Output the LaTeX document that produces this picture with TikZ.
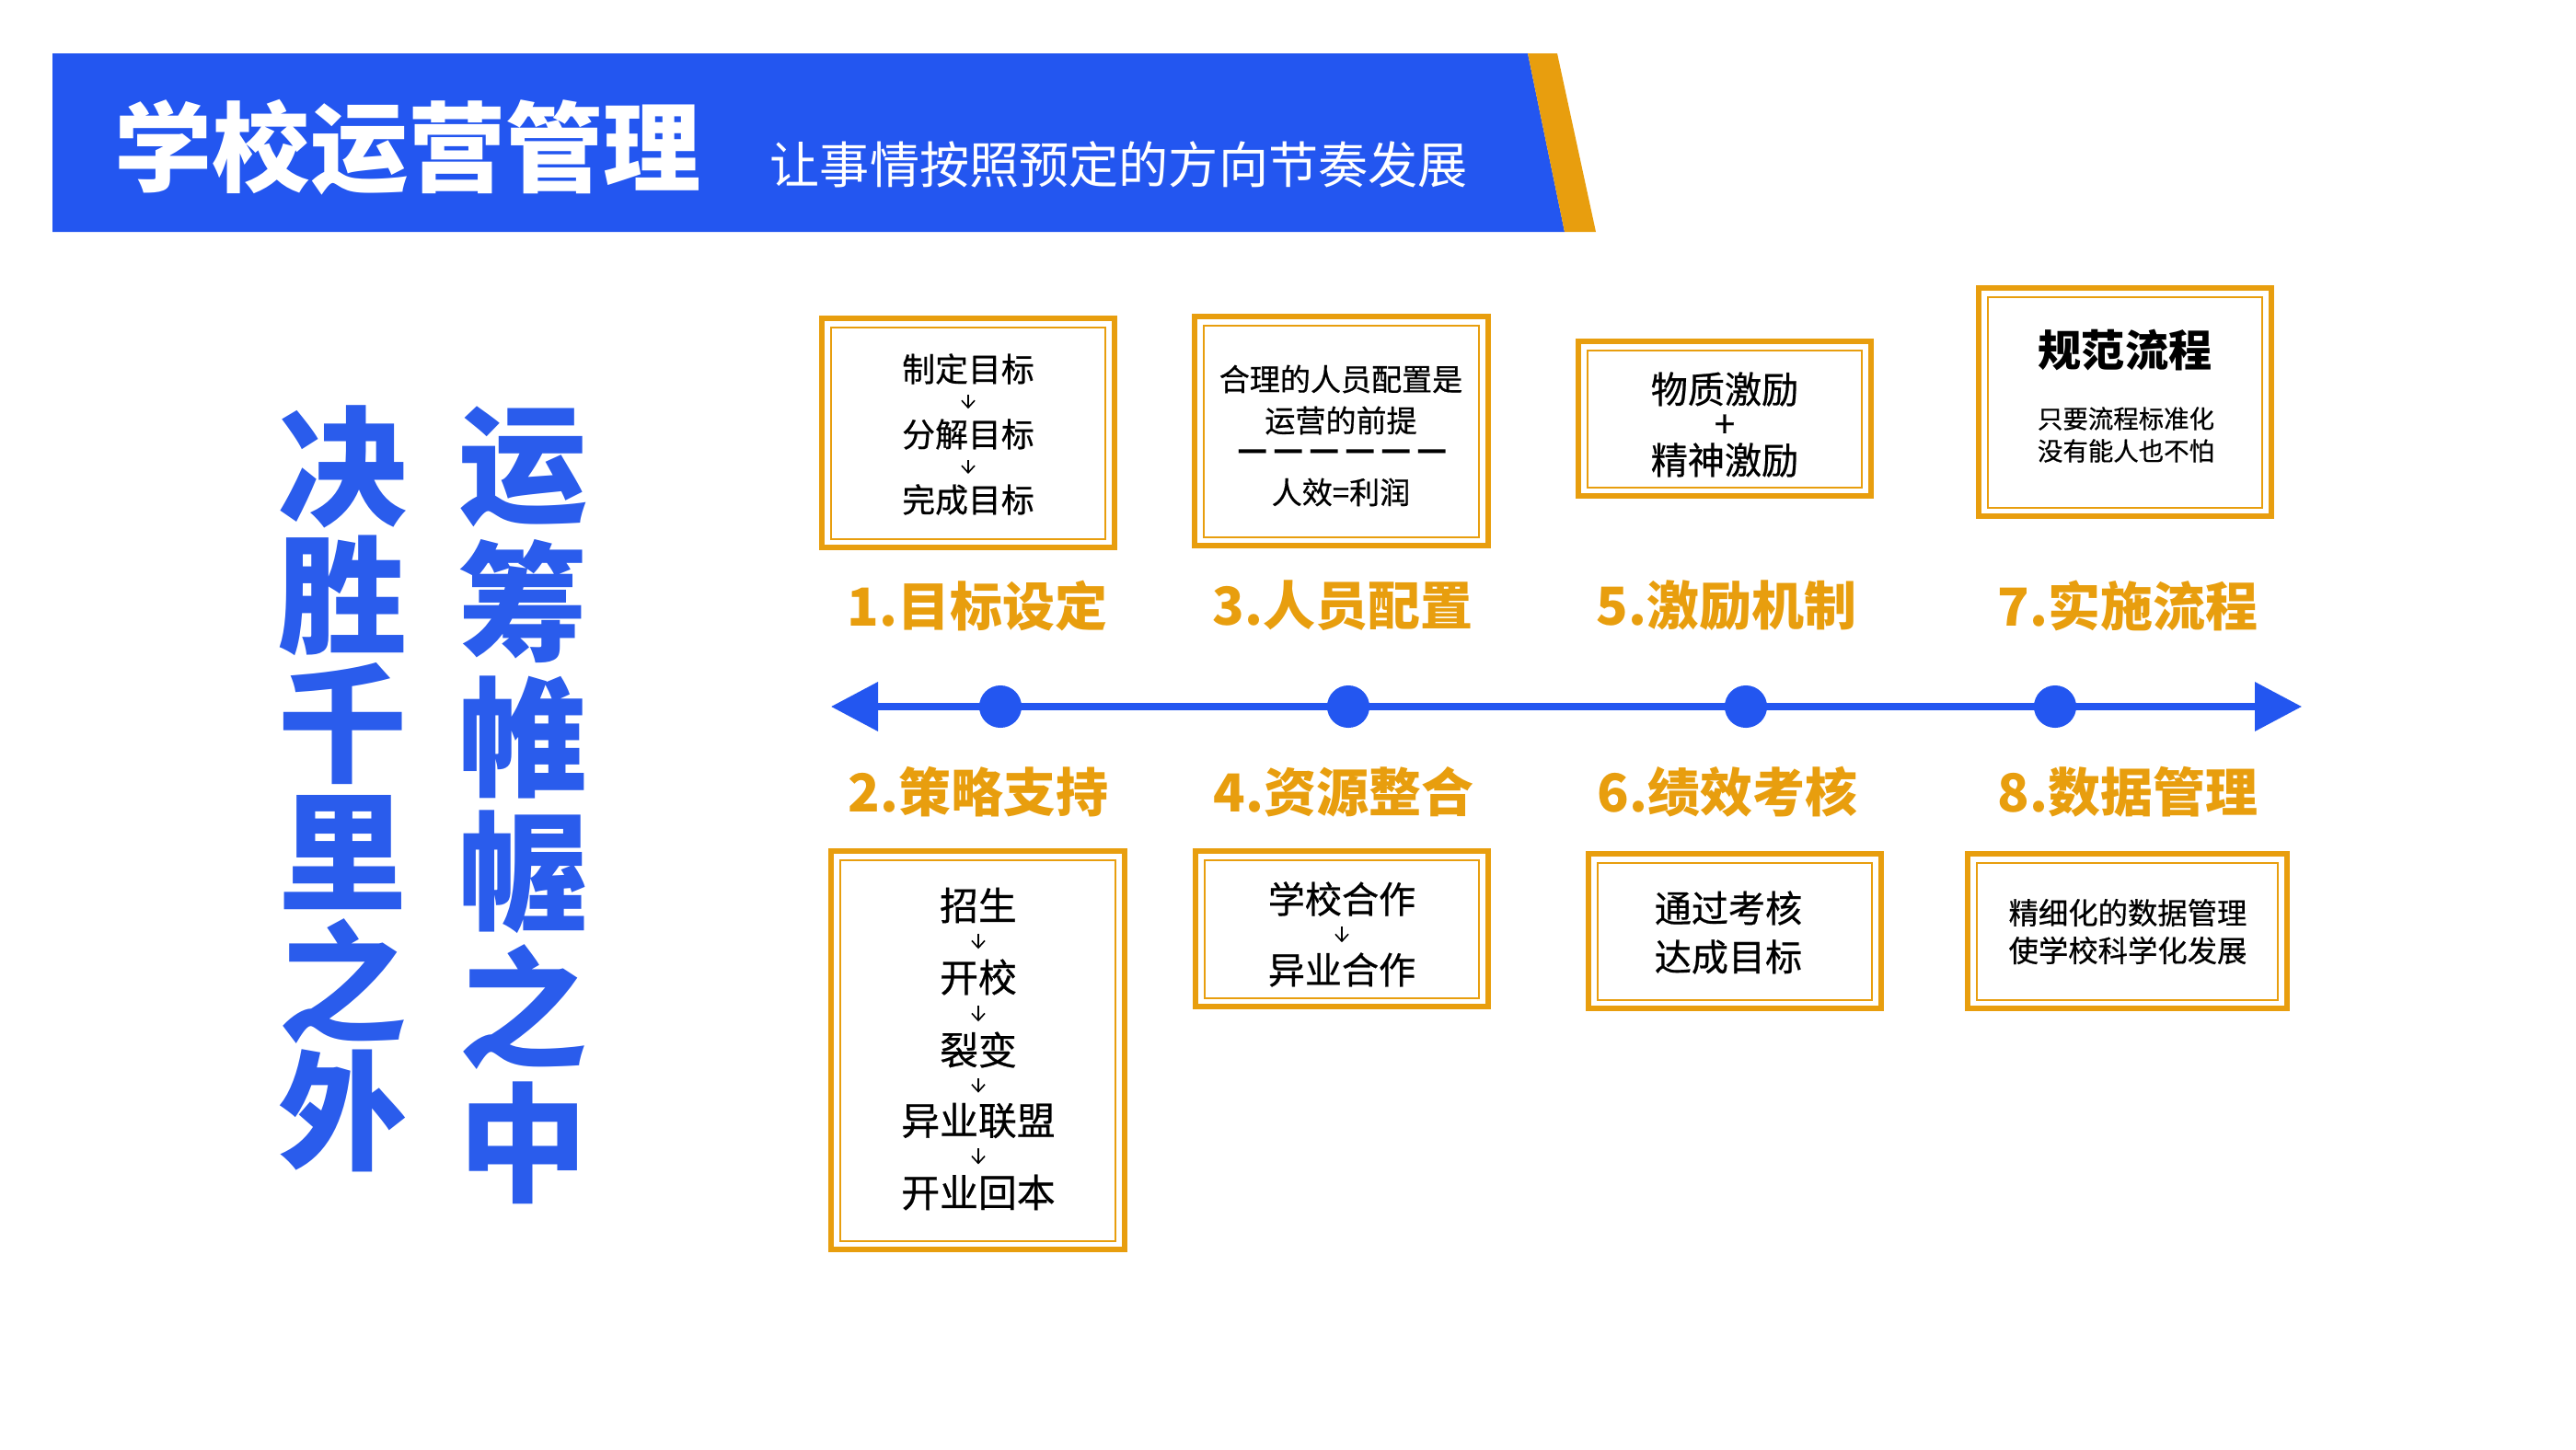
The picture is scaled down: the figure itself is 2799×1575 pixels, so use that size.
\documentclass[tikz,border=0pt]{standalone}
\usepackage{fontspec}
\setmainfont{Noto Sans CJK SC}
\newfontfamily\cjkm{Noto Sans CJK SC}[FakeBold=0.6]
\usetikzlibrary{arrows.meta}
\definecolor{hblue}{RGB}{35,86,240}
\definecolor{cblue}{RGB}{42,92,236}
\definecolor{orng}{RGB}{232,158,14}
\newcommand\fsz[1]{\fontsize{#1}{#1}\selectfont}
\begin{document}
\begin{tikzpicture}[x=0.01cm,y=-0.01cm,
  boxo/.style={draw=orng, line width=1.7pt, fill=white, inner sep=0pt},
  boxi/.style={draw=orng, line width=0.6pt},
  btxt/.style={inner sep=0pt, text=black},
  lbl/.style={inner sep=0pt, text=orng, font=\fsz{16.2pt}\bfseries},
  call/.style={inner sep=0pt, text=cblue, font=\fsz{39.8pt}\bfseries},
  dot/.style={circle, fill=hblue, inner sep=0pt, minimum size=13.1pt},
  darr/.style={line width=0.45pt, -{Straight Barb[length=2.2pt,width=4pt]}, shorten <=3pt, shorten >=3pt},
]
\path[use as bounding box, fill=white] (0,0) rectangle (2799,1575);

% header
\fill[hblue] (57,58) -- (1660,58) -- (1700,252) -- (57,252) -- cycle;
\fill[orng] (1660,58) -- (1692,58) -- (1734,252) -- (1700,252) -- cycle;
\node[inner sep=0pt, anchor=west, text=white, font=\fsz{30.2pt}\bfseries] (title) at (124,160) {学校运营管理};
\node[inner sep=0pt, anchor=west, text=white, font=\fsz{15.4pt}] (sub) at (836,179) {让事情按照预定的方向节奏发展};

% calligraphy columns
\foreach \c [count=\i] in {运,筹,帷,幄,之,中}
  \node[call] (R\i) at (568,{507+147*(\i-1)}) {\c};
\foreach \c [count=\i] in {决,胜,千,里,之,外}
  \node[call] (L\i) at (372,{507+140*(\i-1)}) {\c};

% timeline
\coordinate (TL) at (903,768);
\coordinate (TR) at (2501,768);
\draw[hblue, line width=2pt, {Triangle[length=14.5pt,width=14.8pt]}-{Triangle[length=14.5pt,width=14.8pt]}] (TL) -- (TR);
\node[dot] (D1) at (1087,768) {};
\node[dot] (D2) at (1465,768) {};
\node[dot] (D3) at (1897,768) {};
\node[dot] (D4) at (2233,768) {};

% labels
\node[lbl] (l1) at (1062,658) {1.目标设定};
\node[lbl] (l3) at (1459,658) {3.人员配置};
\node[lbl] (l5) at (1876,658) {5.激励机制};
\node[lbl] (l7) at (2312,658) {7.实施流程};
\node[lbl] (l2) at (1063,861) {2.策略支持};
\node[lbl] (l4) at (1460,861) {4.资源整合};
\node[lbl] (l6) at (1877,861) {6.绩效考核};
\node[lbl] (l8) at (2312,861) {8.数据管理};

% boxes
\node[boxo, minimum width=3.18cm, minimum height=2.49cm] (B1) at (1052,470.5) {};
\node[boxo, minimum width=3.19cm, minimum height=2.49cm] (B3) at (1457.5,468.5) {};
\node[boxo, minimum width=3.18cm, minimum height=1.68cm] (B5) at (1874,455) {};
\node[boxo, minimum width=3.18cm, minimum height=2.48cm] (B7) at (2309,437) {};
\node[boxo, minimum width=3.19cm, minimum height=4.33cm] (B2) at (1062.5,1141.5) {};
\node[boxo, minimum width=3.18cm, minimum height=1.69cm] (B4) at (1458,1009.5) {};
\node[boxo, minimum width=3.18cm, minimum height=1.68cm] (B6) at (1885,1012) {};
\node[boxo, minimum width=3.47cm, minimum height=1.68cm] (B8) at (2311.5,1012) {};
\foreach \b in {B1,B2,B3,B4,B5,B6,B7,B8}
  \draw[boxi] ([shift={(13,13)}]\b.north west) rectangle ([shift={(-13,-12)}]\b.south east);

% box 1
\begin{scope}[every node/.style={btxt, font=\cjkm\fsz{10.2pt}}]
\node (a1) at (1052,401) {制定目标};
\node (a2) at (1052,472) {分解目标};
\node (a3) at (1052,543) {完成目标};
\end{scope}
\draw[darr] (a1) -- (a2);
\draw[darr] (a2) -- (a3);

% box 3
\begin{scope}[every node/.style={btxt, font=\cjkm\fsz{9.4pt}}]
\node (c1) at (1457,412) {合理的人员配置是};
\node (c2) at (1457,457) {运营的前提};
\node[font=\fsz{10.4pt}\bfseries] (c3) at (1459,495) {—\kern1.6pt—\kern1.6pt—\kern1.6pt—\kern1.6pt—\kern1.6pt—};
\node (c4) at (1457,535) {人效=利润};
\end{scope}

% box 5
\begin{scope}[every node/.style={btxt, font=\cjkm\fsz{11.4pt}}]
\node (e1) at (1874,423) {物质激励};
\node (e2) at (1874,463) {+};
\node (e3) at (1874,500) {精神激励};
\end{scope}

% box 7
\node[btxt, font=\fsz{13.4pt}\bfseries] (g1) at (2309,381) {规范流程};
\node[btxt, font=\cjkm\fsz{7.8pt}] (g2) at (2310,455) {只要流程标准化};
\node[btxt, font=\cjkm\fsz{7.8pt}] (g3) at (2310,490) {没有能人也不怕};

% box 2
\begin{scope}[every node/.style={btxt, font=\cjkm\fsz{11.9pt}}]
\node (b1) at (1063,984) {招生};
\node (b2) at (1063,1062) {开校};
\node (b3) at (1063,1141) {裂变};
\node (b4) at (1063,1218) {异业联盟};
\node (b5) at (1063,1296) {开业回本};
\end{scope}
\draw[darr] (b1) -- (b2);
\draw[darr] (b2) -- (b3);
\draw[darr] (b3) -- (b4);
\draw[darr] (b4) -- (b5);

% box 4
\begin{scope}[every node/.style={btxt, font=\cjkm\fsz{11.4pt}}]
\node (d1) at (1458,977) {学校合作};
\node (d2) at (1458,1054) {异业合作};
\end{scope}
\draw[darr] (d1) -- (d2);

% box 6
\begin{scope}[every node/.style={btxt, font=\cjkm\fsz{11.4pt}}]
\node (f1) at (1878,987) {通过考核};
\node (f2) at (1878,1040) {达成目标};
\end{scope}

% box 8
\begin{scope}[every node/.style={btxt, font=\cjkm\fsz{9.2pt}}]
\node (h1) at (2312,992) {精细化的数据管理};
\node (h2) at (2312,1033) {使学校科学化发展};
\end{scope}
\end{tikzpicture}
\end{document}
